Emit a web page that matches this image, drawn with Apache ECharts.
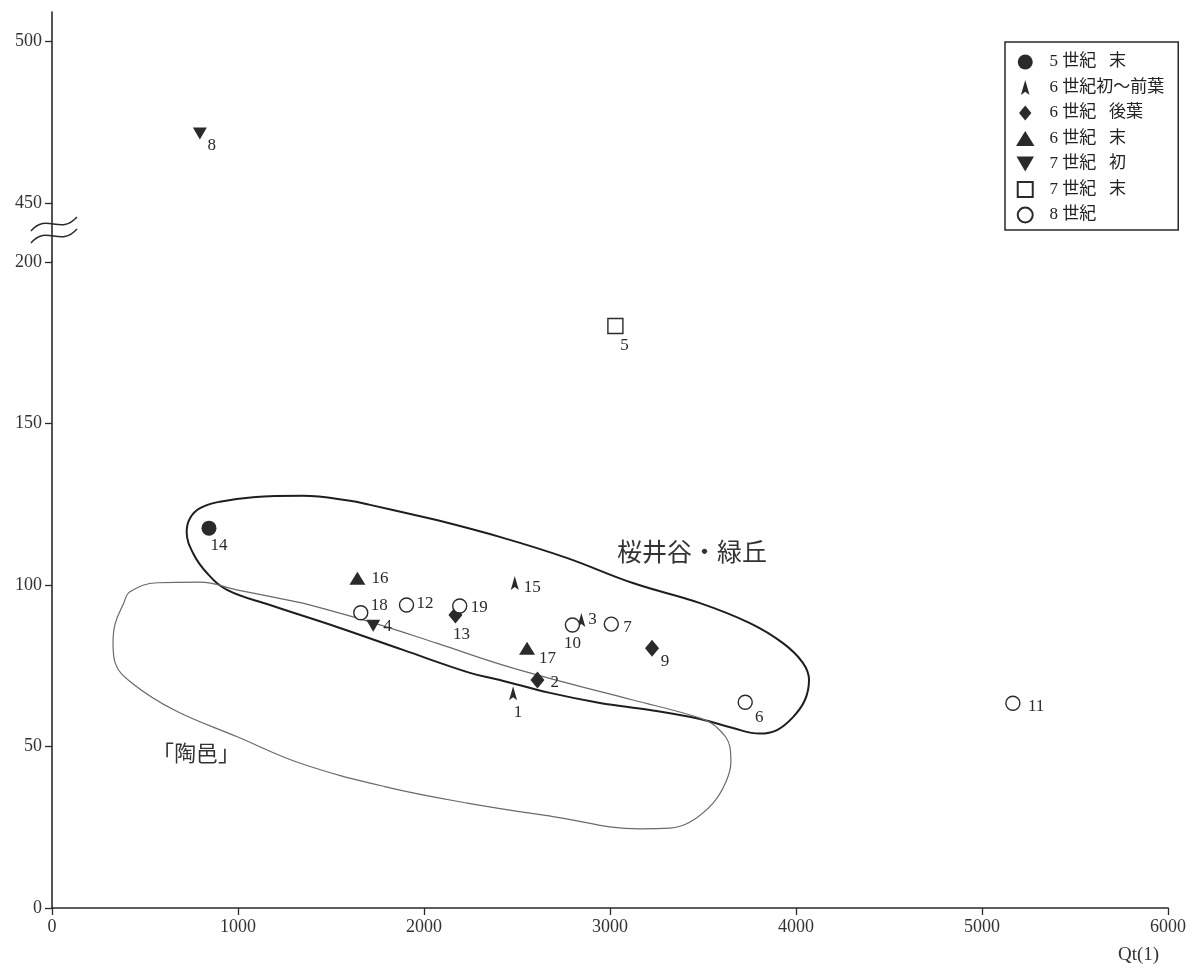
<!DOCTYPE html>
<html>
<head>
<meta charset="utf-8">
<script src="https://cdn.jsdelivr.net/npm/echarts@6/dist/echarts.min.js"></script>
<style>
  html, body { margin: 0; padding: 0; background: #fff; }
  #chart { width: 1195px; height: 971px; }
</style>
</head>
<body>
<div id="chart"></div>
<script>
// each point: [Qt(1), y value, sample no.]
const late5th = [[844, 117.6, 14]];
const early6th = [[2488, 100.6, 15], [2846, 89.2, 3], [2479, 66.5, 1]];
const lateHalf6th = [[2169, 90.7, 13], [3226, 80.4, 9], [2610, 70.6, 2]];
const end6th = [[1642, 102.1, 16], [2554, 80.4, 17]];
const early7th = [[1727, 87.4, 4]];
const early7thHigh = [[795, 471.5, 8]];
const end7th = [[3029, 180.2, 5]];
const c8th = [[1660, 91.4, 18], [1906, 93.8, 12], [2192, 93.5, 19], [2798, 87.6, 10],
              [3007, 87.9, 7], [3727, 63.7, 6], [5166, 63.4, 11]];

const legendNames = ['5 世紀   末', '6 世紀初～前葉', '6 世紀   後葉', '6 世紀   末', '7 世紀   初', '7 世紀   末', '8 世紀'];
const xTicks = [0, 1000, 2000, 3000, 4000, 5000, 6000];

// group outlines (data units)
const sakuraiOutline = [[2068, 120.1], [2425, 114.6], [2767, 108.4], [3123, 100.6], [3484, 94.4], [3752, 88.2],
  [3930, 82.0], [4037, 75.9], [4070, 70.6], [4048, 64.4], [3984, 59.1], [3898, 55.1], [3806, 54.0], [3661, 55.7],
  [3484, 58.5], [3215, 61.3], [2946, 63.5], [2677, 66.6], [2408, 70.6], [2247, 72.8], [1887, 79.9], [1532, 87.0],
  [1172, 93.8], [941, 98.5], [833, 103.7], [758, 109.9], [724, 116.5], [742, 120.7], [796, 123.8], [903, 125.8],
  [1081, 127.2], [1349, 127.6], [1602, 126.1], [1710, 124.8], [2068, 120.1]];
const sueOutline = [[1349, 94.4], [1710, 88.6], [2068, 82.0], [2425, 75.2], [2767, 69.7], [3123, 64.4], [3484, 58.8],
  [3573, 56.0], [3645, 49.8], [3650, 45.2], [3623, 39.0], [3553, 32.4], [3430, 26.6], [3322, 24.7], [3161, 24.5],
  [2693, 28.3], [2241, 32.4], [1788, 37.6], [1335, 44.8], [996, 53.0], [657, 61.3], [431, 69.6], [340, 75.8],
  [328, 82.0], [340, 88.1], [385, 94.3], [419, 97.9], [566, 100.7], [796, 100.9], [993, 98.5], [1349, 94.4]];

// where each number label sits relative to its mark: [align, dx, dy]
const labelStyle = {
  14: ['center', 10, 17], 8: ['center', 12, 12], 5: ['center', 9, 20], 16: ['left', 14, 0],
  15: ['left', 9, 4], 18: ['left', 10, -7], 12: ['left', 10, -1], 19: ['left', 11, 2],
  13: ['center', 6, 19], 4: ['left', 10, 1], 1: ['center', 5, 19], 10: ['center', 0, 18],
  3: ['left', 7, 0], 7: ['left', 12, 3], 17: ['left', 12, 10], 9: ['center', 13, 13],
  2: ['left', 13, 3], 6: ['center', 14, 15], 11: ['left', 15, 3]
};

const ink = '#2a2a2a';
const serif = "'Liberation Serif', 'Noto Sans CJK JP', serif";
const arrowPath = 'path://M4 0 L8 14 L4 11 L0 14 Z';
const diamondPath = 'path://M7 0 L14 8.5 L7 17 L0 8.5 Z';
const triUpPath = 'path://M8 0 L16 13 L0 13 Z';
const triDownPath = 'path://M0 0 L14 0 L7 12 Z';
const squarePath = 'path://M0 0 L14 0 L14 14 L0 14 Z';

const chart = echarts.init(document.getElementById('chart'));

function points(arr) {
  return arr.map(function (p) {
    const s = labelStyle[p[2]];
    return { value: [p[0], p[1]], name: String(p[2]), label: { align: s[0], offset: [s[1], s[2]] } };
  });
}

function scatter(name, arr, symbol, size, hollow, idx) {
  return {
    type: 'scatter',
    name: name,
    xAxisIndex: idx || 0,
    yAxisIndex: idx || 0,
    symbol: symbol,
    symbolSize: size,
    itemStyle: hollow ? { color: '#fff', borderColor: ink, borderWidth: 1.4, opacity: 1 } : { color: ink, opacity: 1 },
    label: {
      show: true, position: 'inside', formatter: '{b}', color: ink,
      fontSize: 17, fontFamily: serif, verticalAlign: 'middle', textBorderWidth: 0
    },
    emphasis: { disabled: true },
    z: 3,
    data: points(arr)
  };
}

const axisText = { color: '#333', fontSize: 18, fontFamily: serif, formatter: function (v) { return String(v); } };
const axisLine = { show: true, lineStyle: { color: ink, width: 1.6 } };

const option = {
  animation: false,
  backgroundColor: '#fff',
  grid: [
    { left: 52, width: 1116, top: 262, height: 646, outerBoundsMode: 'none' },
    { left: 52, width: 1116, top: 12, height: 191, outerBoundsMode: 'none' }
  ],
  xAxis: [
    {
      type: 'value', gridIndex: 0, min: xTicks[0], max: xTicks[xTicks.length - 1], interval: 1000,
      axisLine: axisLine, axisTick: { show: true, length: 7, lineStyle: { color: ink, width: 1.3 } },
      axisLabel: Object.assign({ margin: 10 }, axisText), splitLine: { show: false }
    },
    { type: 'value', gridIndex: 1, min: 0, max: 6000, show: false }
  ],
  yAxis: [
    {
      type: 'value', gridIndex: 0, min: 0, max: 200, interval: 50,
      axisLine: axisLine, axisTick: { show: true, length: 7, lineStyle: { color: ink, width: 1.3 } },
      axisLabel: Object.assign({ margin: 10 }, axisText), splitLine: { show: false }
    },
    {
      type: 'value', gridIndex: 1, min: 450, max: 509, interval: 50,
      axisLine: axisLine, axisTick: { show: true, length: 7, lineStyle: { color: ink, width: 1.3 } },
      axisLabel: Object.assign({ margin: 10, showMaxLabel: false }, axisText), splitLine: { show: false }
    }
  ],
  legend: {
    orient: 'vertical',
    left: 1005,
    top: 42,
    padding: [10, 14, 5, 11],
    itemGap: 5.5,
    itemWidth: 30,
    itemHeight: 15,
    borderColor: ink,
    borderWidth: 1.5,
    selectedMode: false,
    formatter: ' {name}',
    textStyle: { color: '#222', fontSize: 17, fontFamily: serif, lineHeight: 20 },
    data: [
      { name: legendNames[0], icon: 'circle' },
      { name: legendNames[1], icon: arrowPath },
      { name: legendNames[2], icon: diamondPath },
      { name: legendNames[3], icon: triUpPath },
      { name: legendNames[4], icon: triDownPath },
      { name: legendNames[5], icon: squarePath },
      { name: legendNames[6], icon: 'circle' }
    ]
  },
  graphic: [
    { type: 'line', shape: { x1: 52, y1: 203, x2: 52, y2: 262 }, style: { stroke: ink, lineWidth: 1.6 } },
    { type: 'bezierCurve', shape: { x1: 31, y1: 231, cpx1: 47, cpy1: 212, cpx2: 60, cpy2: 236, x2: 77, y2: 217 },
      style: { stroke: ink, lineWidth: 1.4, fill: null } },
    { type: 'bezierCurve', shape: { x1: 31, y1: 243, cpx1: 47, cpy1: 224, cpx2: 60, cpy2: 248, x2: 77, y2: 229 },
      style: { stroke: ink, lineWidth: 1.4, fill: null } },
    { type: 'text', left: 617, top: 539, style: { text: '桜井谷・緑丘', fontSize: 25, fill: '#333', fontFamily: "'Noto Sans CJK JP'" } },
    { type: 'text', left: 152, top: 742, style: { text: '「陶邑」', fontSize: 22, fill: '#333', fontFamily: "'Noto Sans CJK JP'" } },
    { type: 'text', left: 1118, top: 946, style: { text: 'Qt(1)', fontSize: 19, fill: '#333', fontFamily: serif } }
  ],
  series: [
    { type: 'line', name: 'sakurai', data: sakuraiOutline, smooth: 0.4, symbol: 'none', silent: true, z: 1,
      lineStyle: { color: '#1e1e1e', width: 2 } },
    { type: 'line', name: 'sue', data: sueOutline, smooth: 0.4, symbol: 'none', silent: true, z: 1,
      lineStyle: { color: '#6a6a6a', width: 1.2 } },
    scatter(legendNames[0], late5th, 'circle', 15, false),
    scatter(legendNames[1], early6th, arrowPath, [8, 14], false),
    scatter(legendNames[2], lateHalf6th, diamondPath, [14, 17], false),
    scatter(legendNames[3], end6th, triUpPath, [16, 13], false),
    scatter(legendNames[4], early7th, triDownPath, [14, 12], false),
    scatter(legendNames[4], early7thHigh, triDownPath, [14, 12], false, 1),
    scatter(legendNames[5], end7th, squarePath, 15, true),
    scatter(legendNames[6], c8th, 'circle', 14, true)
  ]
};

chart.setOption(option);

window.addEventListener('resize', function () {
  chart.resize();
});
</script>
</body>
</html>
